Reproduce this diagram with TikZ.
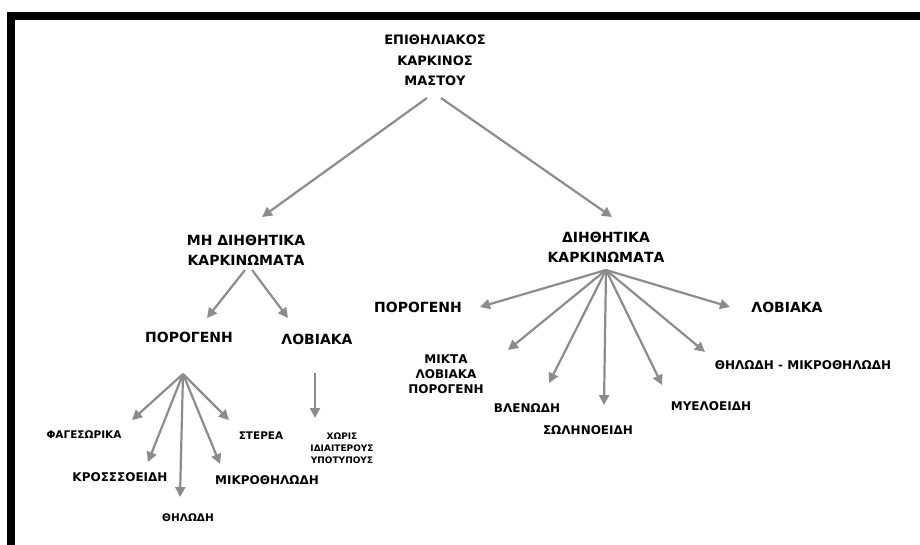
\documentclass[tikz,border=0pt]{standalone}
\usepackage{fontspec}
\newfontfamily\lblfont{DejaVu Sans Bold}
\usetikzlibrary{arrows.meta}
\definecolor{arrgray}{RGB}{140,140,140}

\begin{document}
\begin{tikzpicture}[x=1pt,y=-1pt,
  every node/.style={align=center,inner sep=1pt},
  title/.style={font=\lblfont\fontsize{13}{20.5}\selectfont},
  big/.style={font=\lblfont\fontsize{14}{20}\selectfont},
  mid/.style={font=\lblfont\fontsize{12}{15}\selectfont},
  small/.style={font=\lblfont\fontsize{10.5}{13}\selectfont},
  tiny/.style={font=\lblfont\fontsize{9}{12}\selectfont},
  arr/.style={draw=arrgray,line width=2.2pt,-{Triangle[length=10pt,width=10pt]}}]

\useasboundingbox (0,0) rectangle (920,545);
\fill (7,12) rectangle (920,20);
\fill (7,12) rectangle (15,545);

\node[title] (root) at (435,60.5) {ΕΠΙΘΗΛΙΑΚΟΣ\\ΚΑΡΚΙΝΟΣ\\ΜΑΣΤΟΥ};
\node[big] (mh) at (246,250) {ΜΗ ΔΙΗΘΗΤΙΚΑ\\ΚΑΡΚΙΝΩΜΑΤΑ};
\node[big] (dk) at (606,247) {ΔΙΗΘΗΤΙΚΑ\\ΚΑΡΚΙΝΩΜΑΤΑ};

% mh branch
\node[big] (mhp) at (189,337) {ΠΟΡΟΓΕΝΗ};
\node[big] (mhl) at (317,339) {ΛΟΒΙΑΚΑ};
\node[small] (fag) at (84,435) {ΦΑΓΕΣΩΡΙΚΑ};
\node[mid] (kro) at (120,477) {ΚΡΟΣΣΣΟΕΙΔΗ};
\node[small] (thl) at (188,518) {ΘΗΛΩΔΗ};
\node[mid] (mik) at (267,480) {ΜΙΚΡΟΘΗΛΩΔΗ};
\node[small] (ste) at (261,436) {ΣΤΕΡΕΑ};
\node[tiny] (xor) at (342,448) {ΧΩΡΙΣ\\ΙΔΙΑΙΤΕΡΟΥΣ\\ΥΠΟΤΥΠΟΥΣ};

% dk branch
\node[big] (dkp) at (418,307) {ΠΟΡΟΓΕΝΗ};
\node[big] (dkl) at (787,307) {ΛΟΒΙΑΚΑ};
\node[mid] (mikta) at (446,374) {ΜΙΚΤΑ\\ΛΟΒΙΑΚΑ\\ΠΟΡΟΓΕΝΗ};
\node[mid] (vle) at (527,408) {ΒΛΕΝΩΔΗ};
\node[mid] (sol) at (588,430) {ΣΩΛΗΝΟΕΙΔΗ};
\node[mid] (mye) at (711,406) {ΜΥΕΛΟΕΙΔΗ};
\node[mid] (thm) at (803,365) {ΘΗΛΩΔΗ - ΜΙΚΡΟΘΗΛΩΔΗ};

\draw[arr] ([shift={(-8,37.5)}]root.center) -- ([shift={(16,-33)}]mh.center);
\draw[arr] ([shift={(6,37.5)}]root.center) -- ([shift={(6,-30)}]dk.center);
\draw[arr] ([shift={(-1,20)}]mh.center) -- ([shift={(18,-19)}]mhp.center);
\draw[arr] ([shift={(6,20)}]mh.center) -- ([shift={(-29,-21)}]mhl.center);
\draw[arr] ([shift={(-2,34)}]mhl.center) -- ([shift={(-27,-30)}]xor.center);

\coordinate (pf) at ([shift={(-6,37)}]mhp.center);
\foreach \n/\dx/\dy in {fag/48/-15, kro/28/-15, thl/-8/-21, mik/-47/-16, ste/-32/-16}
{
	\draw[arr] (pf) -- ([shift={(\dx,\dy)}]\n.center);
};

\coordinate (dkf) at ([shift={(0,23)}]dk.center);
\foreach \n/\dx/\dy in {dkp/62/0, mikta/62/-24, vle/22/-25, sol/16/-25, mye/-49/-21, thm/-98/-13, dkl/-57/0}
{
	\draw[arr] (dkf) -- ([shift={(\dx,\dy)}]\n.center);
};
\end{tikzpicture}
\end{document}
